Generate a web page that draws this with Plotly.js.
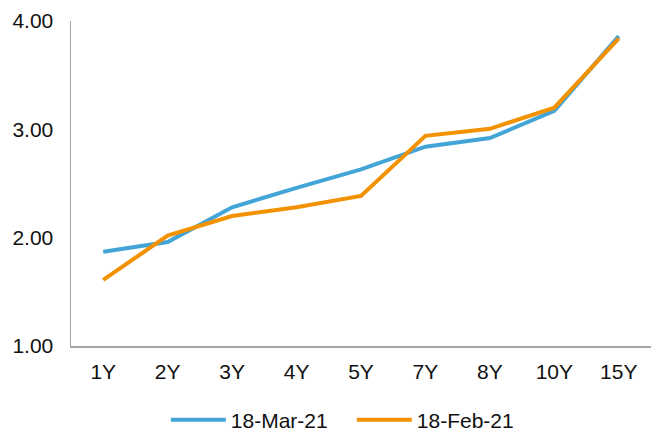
<!DOCTYPE html>
<html>
<head>
<meta charset="utf-8">
<script src="https://cdn.plot.ly/plotly-3.0.1.min.js"></script>
<style>html,body{margin:0;padding:0;background:#fff;}#chart{width:652px;height:432px;}</style>
</head>
<body>
<div id="chart"></div>
<script>
var tenors = ['1Y','2Y','3Y','4Y','5Y','7Y','8Y','10Y','15Y'];
var mar21 = [1.87, 1.96, 2.28, 2.46, 2.63, 2.84, 2.92, 3.17, 3.86];
var feb21 = [1.61, 2.02, 2.20, 2.28, 2.385, 2.94, 3.005, 3.20, 3.84];
var yTicks = [1, 2, 3, 4];
var yTickText = ['1.00', '2.00', '3.00', '4.00'];

var font = {family: 'Liberation Sans, Arial, sans-serif', size: 21, color: '#111111'};
var data = [
  {x: tenors, y: mar21, name: '18-Mar-21', type: 'scatter', mode: 'lines',
   line: {color: '#43A5D7', width: 4}},
  {x: tenors, y: feb21, name: '18-Feb-21', type: 'scatter', mode: 'lines',
   line: {color: '#F39200', width: 4}}
];
var layout = {
  width: 652, height: 432,
  margin: {l: 71, r: 1, t: 21, b: 86, autoexpand: false},
  paper_bgcolor: '#fff', plot_bgcolor: '#fff',
  font: font,
  showlegend: true,
  legend: {orientation: 'h', x: 0.1635, xanchor: 'left', y: -0.2277, yanchor: 'middle',
           itemwidth: 55, entrywidth: 116, font: font, bgcolor: 'rgba(0,0,0,0)'},
  xaxis: {type: 'category', range: [-0.5, 8.5], showline: true, linecolor: '#a6a6a6', linewidth: 1.5,
          showgrid: false, zeroline: false, ticks: '', ticklabelstandoff: 6, tickfont: font, fixedrange: true},
  yaxis: {range: [1, 4], tickvals: yTicks, ticktext: yTickText, showline: true, linecolor: '#a6a6a6', linewidth: 1.5,
          showgrid: false, zeroline: false, ticks: '', ticklabelstandoff: 12, tickfont: font, fixedrange: true}
};
Plotly.newPlot('chart', data, layout, {displayModeBar: false, staticPlot: true});
</script>
</body>
</html>
